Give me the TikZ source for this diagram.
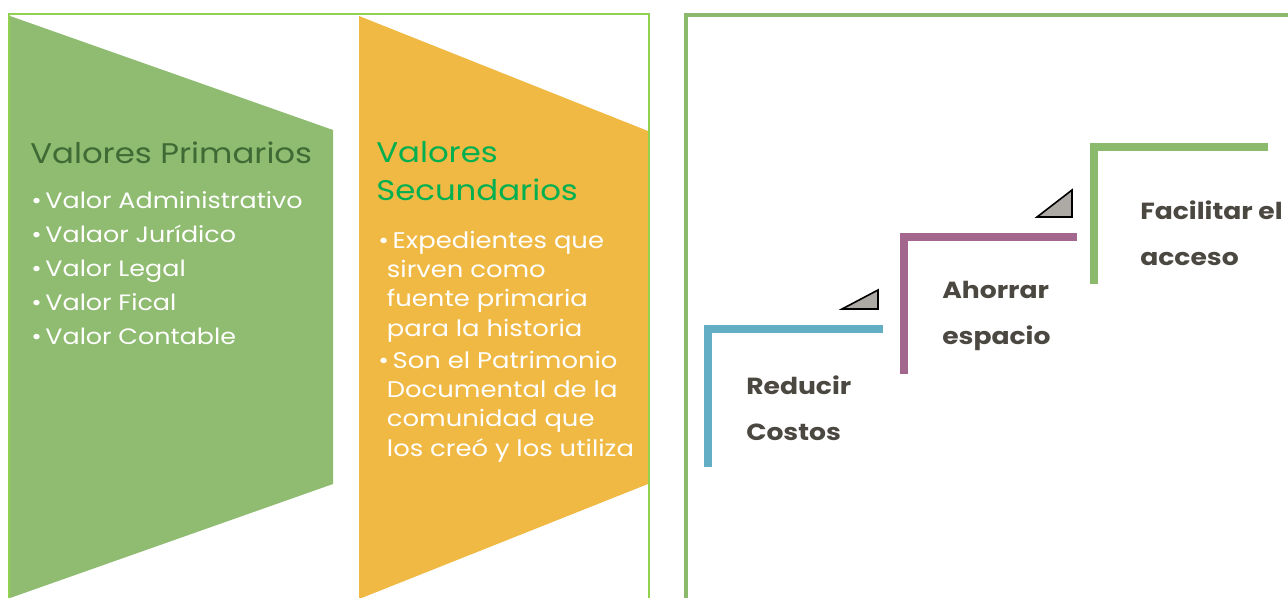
\documentclass[tikz,border=0pt]{standalone}
\usepackage{fontspec}
\setmainfont{Poppins}[FakeStretch=1.14]
\definecolor{marcoclaro}{HTML}{92D050}
\definecolor{marcoverde}{HTML}{8CBA6C}
\definecolor{verdeval}{HTML}{8FBC70}
\definecolor{naranja}{HTML}{EFB944}
\definecolor{titprim}{HTML}{3F6A35}
\definecolor{titsec}{HTML}{00B050}
\definecolor{azul}{HTML}{63AEC5}
\definecolor{morado}{HTML}{A3668C}
\definecolor{gristri}{HTML}{ADAAA6}
\definecolor{textogris}{HTML}{4B4841}
\tikzset{
  texto/.style={anchor=base west, inner sep=0pt, align=left},
  escalon/.style={line width=5.3pt},
  paso/.style={texto, text=textogris, font=\fontsize{17.5}{34}\selectfont\bfseries},
  triang/.style={fill=gristri, draw=black, line width=1.2pt}
}
\begin{document}
\begin{tikzpicture}[x=0.75pt, y=-0.75pt, line join=miter]
\useasboundingbox (0,0) rectangle (1288,597);
\clip (0,0) rectangle (1288,597);
% valores primarios y secundarios
\fill[verdeval] (10,16) -- (333,130) -- (333,484) -- (10,598) -- cycle;
\fill[naranja] (359,16) -- (648,131) -- (648,484) -- (359,599) -- cycle;
\draw[marcoclaro, line width=2pt] (9,620) -- (9,14) -- (649,14) -- (649,620);
% base = ultima linea de cada nodo
\node[texto, text=titprim, font=\fontsize{21.3}{28}\selectfont] (prim) at (30,163) {Valores Primarios};
\node[texto, text=white, font=\fontsize{16.7}{25.5}\selectfont] (lprim) at (31,344)
  {•\,Valor Administrativo\\ •\,Valaor Jurídico\\ •\,Valor Legal\\ •\,Valor Fical\\ •\,Valor Contable};
\node[texto, text=titsec, font=\fontsize{21.3}{28.5}\selectfont] (sec) at (376,200) {Valores\\ Secundarios};
\node[texto, text=white, font=\fontsize{17}{22}\selectfont] (item1) at (378,336)
  {•\,Expedientes que\\ \hspace*{6.5pt}sirven como\\ \hspace*{6.5pt}fuente primaria\\ \hspace*{6.5pt}para la historia};
\node[texto, text=white, font=\fontsize{17}{22}\selectfont] (item2) at (378,456)
  {•\,Son el Patrimonio\\ \hspace*{6.5pt}Documental de la\\ \hspace*{6.5pt}comunidad que\\ \hspace*{6.5pt}los creó y los utiliza};
% escalones
\draw[marcoverde, line width=2.4pt] (686,620) -- (686,15) -- (1300,15);
\coordinate (A1) at (708,467); \coordinate (A2) at (708,329); \coordinate (A3) at (883,329);
\coordinate (B1) at (904,374); \coordinate (B2) at (904,237); \coordinate (B3) at (1077,237);
\coordinate (C1) at (1094,284); \coordinate (C2) at (1094,147); \coordinate (C3) at (1268,147);
\draw[escalon, azul] (A1) -- (A2) -- (A3);
\draw[escalon, morado] (B1) -- (B2) -- (B3);
\draw[escalon, marcoverde] (C1) -- (C2) -- (C3);
\draw[triang] (842,309) -- (878,309) -- (878,290) -- cycle;
\draw[triang] (1037,217) -- (1072,217) -- (1072,190) -- cycle;
\node[paso] (reducir) at (746,440) {Reducir\\ Costos};
\node[paso] (ahorrar) at (942,344) {Ahorrar\\ espacio};
\node[paso] (facilitar) at (1140,265) {Facilitar el\\ acceso};
\end{tikzpicture}
\end{document}
